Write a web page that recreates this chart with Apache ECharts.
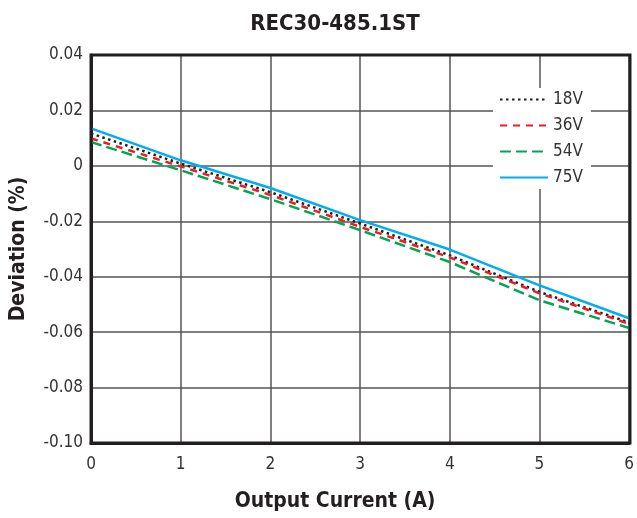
<!DOCTYPE html>
<html>
<head>
<meta charset="utf-8">
<script src="https://cdn.jsdelivr.net/npm/echarts@6/dist/echarts.min.js"></script>
<style>
  html, body { margin: 0; padding: 0; background: #fff; }
  #main { width: 637px; height: 518px; }
</style>
</head>
<body>
<div id="main"></div>
<script>
// data
let current = [0, 1, 2, 3, 4, 5, 6];
let v18 = [0.0117, 0.0008, -0.0095, -0.0208, -0.0323, -0.0455, -0.0565];
let v36 = [0.0099, -0.0002, -0.0105, -0.0220, -0.0330, -0.0460, -0.0570];
let v54 = [0.0086, -0.0016, -0.0120, -0.0232, -0.0347, -0.0485, -0.0585];
let v75 = [0.0135, 0.0020, -0.0080, -0.0196, -0.0302, -0.0431, -0.0550];
let seriesNames = ['18V', '36V', '54V', '75V'];

const font = '"DejaVu Sans Condensed", "Liberation Sans Narrow", sans-serif';

function pairs(vals) {
  return current.map((x, i) => [x, vals[i]]);
}

let myChart = echarts.init(document.getElementById('main'), null, { renderer: 'canvas' });

let option = {
  animation: false,
  title: {
    text: 'REC30-485.1ST',
    left: 330,
    top: 8,
    textAlign: 'center',
    textStyle: { fontFamily: font, fontWeight: 'bold', fontSize: 22, color: '#231f20' }
  },
  legend: {
    orient: 'vertical',
    left: 493,
    top: 88,
    itemWidth: 48,
    itemHeight: 14,
    itemGap: 9,
    padding: [3, 8, 3, 6],
    backgroundColor: '#fff',
    data: seriesNames,
    itemStyle: { color: 'transparent', borderWidth: 0 },
    textStyle: { fontFamily: font, fontSize: 17, color: '#333' }
  },
  grid: { left: 91, right: 7, top: 55, bottom: 75, show: false },
  xAxis: {
    type: 'value',
    min: 0,
    max: 6,
    interval: 1,
    name: 'Output Current (A)',
    nameLocation: 'middle',
    nameGap: 48,
    nameTextStyle: { fontFamily: font, fontWeight: 'bold', fontSize: 21, color: '#231f20', padding: [0, 50, 0, 0] },
    axisLine: { show: true, onZero: false, lineStyle: { color: '#231f20', width: 3 } },
    axisTick: { show: false },
    axisLabel: { fontFamily: font, fontSize: 17, color: '#333', margin: 13 },
    splitLine: { show: true, lineStyle: { color: '#555', width: 1.5 } }
  },
  yAxis: {
    type: 'value',
    min: -0.1,
    max: 0.04,
    interval: 0.02,
    name: 'Deviation (%)',
    nameLocation: 'middle',
    nameGap: 62,
    nameTextStyle: { fontFamily: font, fontWeight: 'bold', fontSize: 21, color: '#231f20' },
    axisLine: { show: true, lineStyle: { color: '#231f20', width: 3 } },
    axisTick: { show: false },
    axisLabel: {
      fontFamily: font, fontSize: 17, color: '#333', margin: 8,
      formatter: function (v) { return Math.abs(v) < 1e-9 ? '0' : v.toFixed(2); }
    },
    splitLine: { show: true, lineStyle: { color: '#555', width: 1.5 } }
  },
  series: [
    {
      name: '18V', type: 'line', data: pairs(v18), symbol: 'none', z: 3,
      lineStyle: { color: '#231f20', width: 2.5, type: [2.5, 3.5] },
      itemStyle: { color: '#231f20' }
    },
    {
      name: '36V', type: 'line', data: pairs(v36), symbol: 'none', z: 4,
      lineStyle: { color: '#ed1c24', width: 2.5, type: [7, 6] },
      itemStyle: { color: '#ed1c24' }
    },
    {
      name: '54V', type: 'line', data: pairs(v54), symbol: 'none', z: 2,
      lineStyle: { color: '#00a651', width: 2.5, type: [11, 5] },
      itemStyle: { color: '#00a651' }
    },
    {
      name: '75V', type: 'line', data: pairs(v75), symbol: 'none', z: 1,
      lineStyle: { color: '#00aeef', width: 2.5 },
      itemStyle: { color: '#00aeef' }
    }
  ],
  graphic: [{
    type: 'rect',
    shape: { x: 91, y: 55, width: 539, height: 388 },
    style: { fill: 'none', stroke: '#231f20', lineWidth: 3 },
    silent: true,
    z: 10
  }]
};

myChart.setOption(option);
</script>
</body>
</html>
